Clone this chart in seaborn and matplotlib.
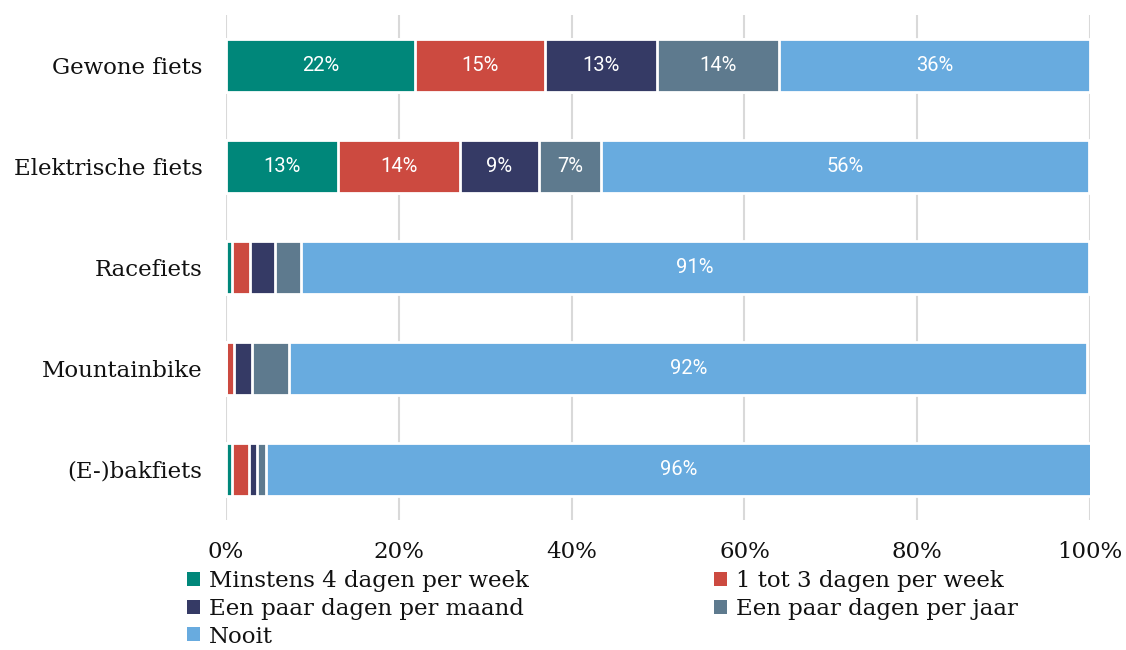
import numpy as np
import pandas as pd
import matplotlib
matplotlib.use("Agg")
import matplotlib.pyplot as plt
from matplotlib.patches import Patch
import seaborn as sns

sns.set_theme(style="whitegrid")
plt.rcParams['font.family'] = ['DejaVu Serif']

categories = ["Gewone fiets", "Elektrische fiets", "Racefiets", "Mountainbike", "(E-)bakfiets"]
series = ["Minstens 4 dagen per week", "1 tot 3 dagen per week",
          "Een paar dagen per maand", "Een paar dagen per jaar", "Nooit"]
minstens4 = [21.9, 13.0, 0.7, 0.0, 0.7]
tot3 = [15.0, 14.1, 2.1, 0.9, 2.0]
maand = [13.0, 9.1, 2.9, 2.1, 0.9]
jaar = [14.1, 7.2, 3.0, 4.3, 1.0]
nooit = [36.0, 56.5, 91.2, 92.4, 95.6]
colors = ["#00877a", "#cc4a40", "#353a65", "#5e7a8e", "#68abdf"]

df = pd.DataFrame({"cat": categories, series[0]: minstens4, series[1]: tot3,
                   series[2]: maand, series[3]: jaar, series[4]: nooit})
cum = df[series].cumsum(axis=1)

fig = plt.figure(figsize=(11.26, 6.5), dpi=100)
ax = fig.add_axes([0.2007, 0.2, 0.7674, 0.777])

# draw longest cumulative first so shorter stacks sit on top
for s, c in zip(reversed(series), reversed(colors)):
    sns.barplot(x=cum[s], y=df["cat"], orient="h", color=c, width=0.53,
                edgecolor="white", linewidth=2, ax=ax, saturation=1)

for i in range(len(categories)):
    left = 0
    for s in series:
        v = df.loc[i, s]
        if v >= 6:
            ax.text(left + v / 2, i, f"{round(v)}%", ha="center", va="center",
                    color="white", fontsize=14.5, family=["Roboto", "DejaVu Sans"])
        left += v

ax.set_xlim(0, 100)
ax.set_ylim(4.5, -0.5)
ax.set_xticks(np.arange(0, 101, 20))
ax.set_xticklabels([f"{t}%" for t in range(0, 101, 20)])
ax.set_xlabel("")
ax.set_ylabel("")
ax.grid(axis="x", color="#d9d9d9", linewidth=1.5)
ax.grid(axis="y", visible=False)
for sp in ax.spines.values():
    sp.set_visible(False)
ax.tick_params(axis="x", length=0, pad=15, labelsize=16.5, colors="#111111")
ax.tick_params(axis="y", length=0, pad=17, labelsize=16.5, colors="#111111")
ax.set_axisbelow(True)

order = [0, 2, 4, 1, 3]
handles = [Patch(facecolor=colors[k], edgecolor="none") for k in order]
labels = [series[k] for k in order]
fig.legend(handles, labels, ncol=2, loc="upper left", bbox_to_anchor=(0.166, 0.123),
           frameon=False, fontsize=16.5, handlelength=0.55, handleheight=0.55,
           handletextpad=0.4, columnspacing=8.1, labelspacing=0.25, borderpad=0,
           borderaxespad=0, labelcolor="#111111")

fig.savefig("out.png", dpi=100)
